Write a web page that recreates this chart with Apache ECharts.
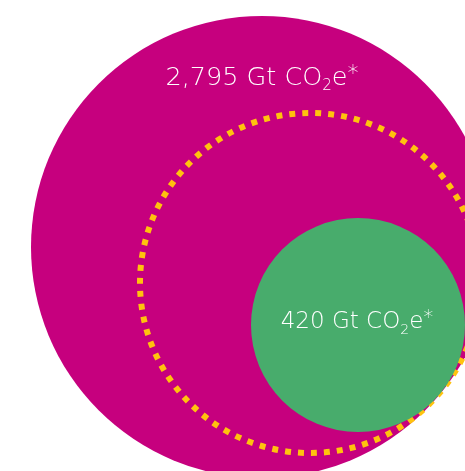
<!DOCTYPE html>
<html><head><meta charset="utf-8">
<script src="https://cdn.jsdelivr.net/npm/echarts@6/dist/echarts.min.js"></script>
<style>html,body{margin:0;padding:0;background:#fff}#c{width:465px;height:471px}</style>
</head><body><div id="c"></div>
<script>
// Bubble data (chart units = layout units of the original figure)
var names   = ['Total', 'Threshold', 'Budget'];
var values  = [2795, null, 420];
var centerX = [262, 310, 358];
var centerY = [247, 283, 325];
var radius  = [231, 170, 107];
var labelTexts = ['2,795 Gt CO', null, '420 Gt CO'];

var colors = ['#C6007E', '#FFC20E', '#48AC6C'];

var data = names.map(function (n, i) {
  return { name: n, value: [centerX[i], centerY[i], radius[i], values[i]] };
});

var chart = echarts.init(document.getElementById('c'), null, { renderer: 'canvas' });
chart.setOption({
  animation: false,
  grid: { left: 0, right: 0, top: 0, bottom: 0 },
  xAxis: { type: 'value', min: 0, max: 465, show: false },
  yAxis: { type: 'value', min: 0, max: 471, inverse: true, show: false },
  series: [{
    type: 'custom',
    coordinateSystem: 'cartesian2d',
    clip: false,
    data: data,
    renderItem: function (params, api) {
      var i = params.dataIndex;
      var c = api.coord([api.value(0), api.value(1)]);
      var r = api.size([api.value(2), 0])[0];
      var children = [];
      if (i === 1) {
        children.push({
          type: 'circle',
          shape: { cx: c[0], cy: c[1], r: r },
          style: { fill: null, stroke: colors[i], lineWidth: 6, lineDash: [6, 7], lineCap: 'butt' }
        });
      } else {
        children.push({
          type: 'circle',
          shape: { cx: c[0], cy: c[1], r: r },
          style: { fill: colors[i] }
        });
        var big = i === 0;
        var fs = big ? 25.5 : 23;
        var ty = big ? 78 : 322;
        var ff = '"DejaVu Sans", sans-serif';
        children.push({
          type: 'text',
          x: c[0] + (big ? 0 : -1),
          y: api.coord([0, ty])[1],
          style: {
            text: '{a|' + labelTexts[i] + '}{b|2}{a|e}{s|*}',
            align: 'center',
            verticalAlign: 'middle',
            fill: '#fff',
            rich: {
              a: { fontFamily: ff, fontWeight: 200, fontSize: fs, lineHeight: 34, fill: '#fff' },
              b: { fontFamily: ff, fontWeight: 200, fontSize: Math.round(fs * 0.6), lineHeight: 14, padding: [16, 0, 0, 0], fill: '#fff' },
              s: { fontFamily: ff, fontWeight: 200, fontSize: Math.round(fs * 0.85), lineHeight: 14, padding: [0, 0, 8, 0], fill: '#fff' }
            }
          }
        });
      }
      return { type: 'group', children: children };
    }
  }]
});
</script>
</body></html>
